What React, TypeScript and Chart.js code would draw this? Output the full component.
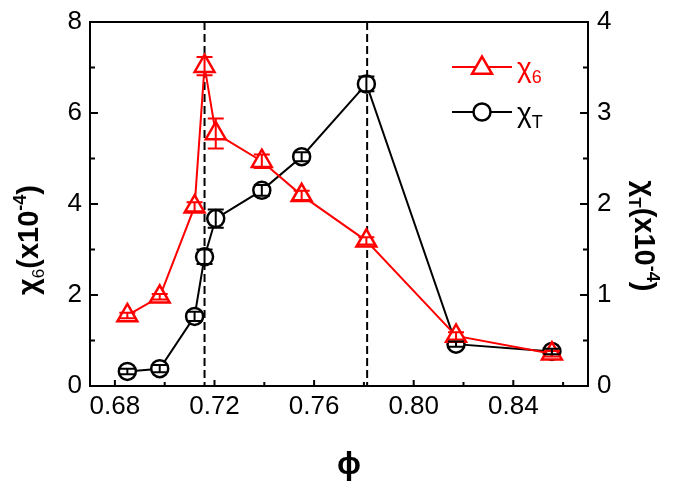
import React, { useEffect, useRef } from "react";
import { Chart, registerables } from "chart.js";

Chart.register(...registerables);

// ---- data ----
const phi = [0.685, 0.698, 0.712, 0.716, 0.7205, 0.739, 0.755, 0.781, 0.817, 0.8555];
const chi6 = [1.55, 1.96, 3.94, 7.03, 5.55, 4.94, 4.19, 3.19, 1.1, 0.71];
const chi6Err = [0.06, 0.06, 0.1, 0.2, 0.33, 0.15, 0.1, 0.08, 0.08, 0.06];
const chiT = [0.16, 0.19, 0.765, 1.42, 1.84, 2.15, 2.52, 3.32, 0.46, 0.38];
const chiTErr = [0.03, 0.04, 0.05, 0.08, 0.1, 0.06, 0.05, 0.08, 0.03, 0.03];
const transitionPhi = [0.716, 0.7813];

const xMajorTicks = [0.68, 0.72, 0.76, 0.8, 0.84];
const xMinorTicks = [0.7, 0.74, 0.78, 0.82, 0.86];
const yLeftMajor = [0, 2, 4, 6, 8];
const yLeftMinor = [1, 3, 5, 7];
const yRightMajor = [0, 1, 2, 3, 4];
const yRightMinor = [0.5, 1.5, 2.5, 3.5];

const FONT = "'Liberation Sans', Arial, sans-serif";
const RED = "#ff0000";
const BLACK = "#000000";

type Seg = { t: string; size: number; bold?: boolean; dy?: number };

function segFont(s: Seg) {
  return `${s.bold ? "bold " : ""}${s.size}px ${FONT}`;
}

function drawRich(ctx: CanvasRenderingContext2D, segs: Seg[], x: number, y: number, align: "left" | "center", color: string) {
  ctx.save();
  ctx.fillStyle = color;
  ctx.textBaseline = "alphabetic";
  ctx.textAlign = "left";
  let total = 0;
  const widths = segs.map((s) => {
    ctx.font = segFont(s);
    const w = ctx.measureText(s.t).width;
    total += w;
    return w;
  });
  let cx = align === "center" ? x - total / 2 : x;
  segs.forEach((s, i) => {
    ctx.font = segFont(s);
    ctx.fillText(s.t, cx, y + (s.dy || 0));
    cx += widths[i];
  });
  ctx.restore();
}

function triangle(ctx: CanvasRenderingContext2D, x: number, y: number, r: number) {
  ctx.beginPath();
  let rad = 0;
  ctx.moveTo(x + Math.sin(rad) * r, y - Math.cos(rad) * r);
  rad += (2 * Math.PI) / 3;
  ctx.lineTo(x + Math.sin(rad) * r, y - Math.cos(rad) * r);
  rad += (2 * Math.PI) / 3;
  ctx.lineTo(x + Math.sin(rad) * r, y - Math.cos(rad) * r);
  ctx.closePath();
}

const decorPlugin = {
  id: "decor",
  beforeDatasetsDraw(chart: any) {
    const { ctx, chartArea, scales } = chart;
    ctx.save();
    ctx.strokeStyle = BLACK;
    ctx.lineWidth = 2;
    ctx.setLineDash([8, 4]);
    transitionPhi.forEach((v) => {
      const px = scales.x.getPixelForValue(v);
      ctx.beginPath();
      ctx.moveTo(px, chartArea.top);
      ctx.lineTo(px, chartArea.bottom);
      ctx.stroke();
    });
    ctx.restore();
  },
  afterDatasetsDraw(chart: any) {
    const { ctx, scales } = chart;
    const errs = [chi6Err, chiTErr];
    chart.data.datasets.forEach((ds: any, di: number) => {
      const ys = di === 0 ? scales.y : scales.y1;
      const err = errs[di];
      ctx.save();
      ctx.strokeStyle = ds.borderColor;
      ctx.lineWidth = 2;
      ds.data.forEach((p: any, i: number) => {
        const px = scales.x.getPixelForValue(p.x);
        const top = ys.getPixelForValue(p.y + err[i]);
        const bot = ys.getPixelForValue(p.y - err[i]);
        const cw = 8;
        ctx.beginPath();
        ctx.moveTo(px, top);
        ctx.lineTo(px, bot);
        ctx.moveTo(px - cw, top);
        ctx.lineTo(px + cw, top);
        ctx.moveTo(px - cw, bot);
        ctx.lineTo(px + cw, bot);
        ctx.stroke();
      });
      ctx.restore();
    });
  },
  afterDraw(chart: any) {
    const { ctx, chartArea, scales } = chart;
    ctx.save();
    ctx.strokeStyle = BLACK;
    ctx.lineWidth = 2;
    // top frame
    ctx.beginPath();
    ctx.moveTo(chartArea.left - 1, chartArea.top);
    ctx.lineTo(chartArea.right + 1, chartArea.top);
    ctx.stroke();
    // inward ticks
    const tick = (x1: number, y1: number, x2: number, y2: number) => {
      ctx.beginPath();
      ctx.moveTo(x1, y1);
      ctx.lineTo(x2, y2);
      ctx.stroke();
    };
    xMajorTicks.forEach((v) => {
      const px = scales.x.getPixelForValue(v);
      tick(px, chartArea.bottom, px, chartArea.bottom - 6);
    });
    xMinorTicks.forEach((v) => {
      const px = scales.x.getPixelForValue(v);
      tick(px, chartArea.bottom, px, chartArea.bottom - 4);
    });
    yLeftMajor.forEach((v) => {
      const py = scales.y.getPixelForValue(v);
      tick(chartArea.left, py, chartArea.left + 8, py);
    });
    yLeftMinor.forEach((v) => {
      const py = scales.y.getPixelForValue(v);
      tick(chartArea.left, py, chartArea.left + 5, py);
    });
    yRightMajor.forEach((v) => {
      const py = scales.y1.getPixelForValue(v);
      tick(chartArea.right, py, chartArea.right - 8, py);
    });
    yRightMinor.forEach((v) => {
      const py = scales.y1.getPixelForValue(v);
      tick(chartArea.right, py, chartArea.right - 5, py);
    });
    ctx.restore();

    // legend
    const items = [
      { color: RED, y: 67, shape: "tri", sub: "6" },
      { color: BLACK, y: 112, shape: "circ", sub: "T" },
    ];
    items.forEach((it) => {
      ctx.save();
      ctx.strokeStyle = it.color;
      ctx.lineWidth = 2;
      ctx.beginPath();
      ctx.moveTo(452, it.y);
      ctx.lineTo(512, it.y);
      ctx.stroke();
      ctx.fillStyle = "#ffffff";
      ctx.lineWidth = 2.5;
      if (it.shape === "tri") {
        triangle(ctx, 482, it.y + 1, 11.5);
      } else {
        ctx.beginPath();
        ctx.arc(482, it.y, 8.5, 0, Math.PI * 2);
      }
      ctx.fill();
      ctx.stroke();
      ctx.restore();
      drawRich(
        ctx,
        [
          { t: "χ", size: 28 },
          { t: it.sub, size: 18, dy: 6 },
        ],
        517,
        it.y + 10,
        "left",
        it.color
      );
    });

    // axis titles
    // left
    ctx.save();
    ctx.translate(38, 240);
    ctx.rotate(-Math.PI / 2);
    drawRich(
      ctx,
      [
        { t: "χ", size: 29, bold: true },
        { t: "6", size: 17, dy: 6 },
        { t: "(x10", size: 29, bold: true },
        { t: "-4", size: 18, bold: true, dy: -12 },
        { t: ")", size: 29, bold: true },
      ],
      0,
      0,
      "center",
      BLACK
    );
    ctx.restore();
    // right
    ctx.save();
    ctx.translate(635, 236);
    ctx.rotate(Math.PI / 2);
    drawRich(
      ctx,
      [
        { t: "χ", size: 29, bold: true },
        { t: "T", size: 17, bold: true, dy: 6 },
        { t: "(x10", size: 29, bold: true },
        { t: "-4", size: 18, bold: true, dy: -12 },
        { t: ")", size: 29, bold: true },
      ],
      0,
      0,
      "center",
      BLACK
    );
    ctx.restore();
    // bottom
    ctx.save();
    ctx.fillStyle = BLACK;
    ctx.font = `bold 32px ${FONT}`;
    ctx.textAlign = "center";
    ctx.textBaseline = "alphabetic";
    ctx.fillText("ϕ", (chartArea.left + chartArea.right) / 2 + 10, 474);
    ctx.restore();
  },
};

export default function App() {
  const ref = useRef<HTMLCanvasElement | null>(null);
  useEffect(() => {
    if (!ref.current) return;
    const tickFont = { family: FONT, size: 26, lineHeight: 1 };
    const chart = new Chart(ref.current, {
      type: "scatter",
      data: {
        datasets: [
          {
            label: "χ6",
            data: phi.map((x, i) => ({ x, y: chi6[i] })),
            yAxisID: "y",
            showLine: true,
            borderColor: RED,
            backgroundColor: "#ffffff",
            borderWidth: 2,
            pointStyle: "triangle",
            pointRadius: 11.5,
            pointBorderWidth: 2.5,
            pointBackgroundColor: "#ffffff",
            pointBorderColor: RED,
          },
          {
            label: "χT",
            data: phi.map((x, i) => ({ x, y: chiT[i] })),
            yAxisID: "y1",
            showLine: true,
            borderColor: BLACK,
            backgroundColor: "#ffffff",
            borderWidth: 2,
            pointStyle: "circle",
            pointRadius: 8.5,
            pointBorderWidth: 2.5,
            pointBackgroundColor: "#ffffff",
            pointBorderColor: BLACK,
          },
        ],
      },
      options: {
        animation: false,
        responsive: false,
        layout: { padding: { top: 14, left: 0, right: 0, bottom: 0 } },
        plugins: { legend: { display: false }, tooltip: { enabled: false } },
        scales: {
          x: {
            type: "linear",
            position: "bottom",
            min: 0.67,
            max: 0.87,
            afterBuildTicks: (s: any) => {
              s.ticks = xMajorTicks.map((v) => ({ value: v }));
            },
            afterFit: (s: any) => {
              s.height = 98;
            },
            grid: { display: false, drawTicks: false },
            border: { display: true, color: BLACK, width: 2 },
            ticks: {
              font: tickFont,
              color: BLACK,
              padding: 8,
              maxRotation: 0,
              autoSkip: false,
              callback: (v: any) => Number(v).toFixed(2),
            },
          },
          y: {
            type: "linear",
            position: "left",
            min: 0,
            max: 8,
            afterBuildTicks: (s: any) => {
              s.ticks = yLeftMajor.map((v) => ({ value: v }));
            },
            afterFit: (s: any) => {
              s.width = 90;
            },
            grid: { display: false, drawTicks: false },
            border: { display: true, color: BLACK, width: 2 },
            ticks: { font: tickFont, color: BLACK, padding: 8 },
          },
          y1: {
            type: "linear",
            position: "right",
            min: 0,
            max: 4,
            afterBuildTicks: (s: any) => {
              s.ticks = yRightMajor.map((v) => ({ value: v }));
            },
            afterFit: (s: any) => {
              s.width = 87;
            },
            grid: { display: false, drawTicks: false },
            border: { display: true, color: BLACK, width: 2 },
            ticks: { font: tickFont, color: BLACK, padding: 9 },
          },
        },
      },
      plugins: [decorPlugin],
    } as any);
    return () => chart.destroy();
  }, []);
  return (
    <div style={{ position: "absolute", left: 0, top: 0, width: 675, height: 484, background: "#fff" }}>
      <canvas ref={ref} width={675} height={484} style={{ display: "block" }} />
    </div>
  );
}
